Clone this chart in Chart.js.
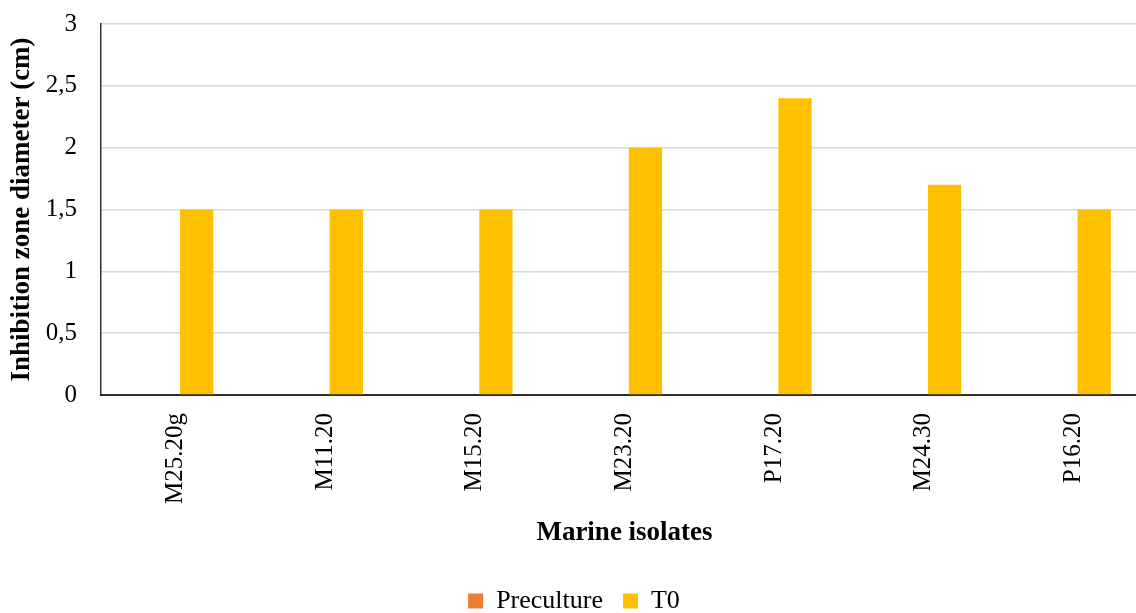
<!DOCTYPE html>
<html>
<head>
<meta charset="utf-8">
<script src="https://cdn.jsdelivr.net/npm/chart.js@4/dist/chart.umd.min.js"></script>
<style>
  html, body { margin: 0; padding: 0; background: #fff; overflow: hidden; }
  #wrap { position: absolute; left: 0; top: 0; width: 1148px; height: 613px; }
</style>
</head>
<body>
<div id="wrap"><canvas id="c"></canvas></div>
<script>
// Inhibition zone diameters for marine isolates
const isolates = ['M25.20g', 'M11.20', 'M15.20', 'M23.20', 'P17.20', 'M24.30', 'P16.20'];
const precultureValues = [0, 0, 0, 0, 0, 0, 0];
const t0Values = [1.5, 1.5, 1.5, 2, 2.4, 1.7, 1.5];
const yTicks = [0, 0.5, 1, 1.5, 2, 2.5, 3];

const serif = "'Liberation Serif', 'Times New Roman', serif";
Chart.defaults.font.family = serif;
Chart.defaults.color = '#000';

new Chart(document.getElementById('c'), {
  type: 'bar',
  data: {
    labels: isolates,
    datasets: [
      { label: 'Preculture', data: precultureValues, backgroundColor: '#ED7D31', borderWidth: 0 },
      { label: 'T0', data: t0Values, backgroundColor: '#FFC000', borderWidth: 0 }
    ]
  },
  options: {
    responsive: true,
    maintainAspectRatio: false,
    animation: false,
    categoryPercentage: 0.56,
    barPercentage: 0.795,
    layout: { padding: { top: 24, left: 0, right: 0, bottom: -11 } },
    plugins: {
      tooltip: { enabled: false },
      legend: {
        position: 'bottom',
        labels: {
          font: { size: 26, family: serif },
          color: '#000',
          boxWidth: 15,
          boxHeight: 15,
          padding: 20
        }
      }
    },
    scales: {
      x: {
        grid: { display: false, drawTicks: false },
        border: { display: true, color: '#2e2e2e', width: 2 },
        ticks: {
          font: { size: 25, family: serif },
          color: '#000',
          maxRotation: 90,
          minRotation: 90,
          padding: 18
        },
        title: {
          display: true,
          text: 'Marine isolates',
          font: { size: 27, weight: 'bold', family: serif },
          color: '#000',
          padding: { top: 10, bottom: 19 }
        },
        afterFit: (s) => { s.height = 173; }
      },
      y: {
        min: 0,
        max: 3,
        afterBuildTicks: (s) => { s.ticks = yTicks.map(v => ({ value: v })); },
        grid: { color: '#d9d9d9', lineWidth: 1.5, drawTicks: true, tickLength: 24, tickColor: 'rgba(0,0,0,0)' },
        border: { display: true, color: '#2e2e2e', width: 1.5 },
        ticks: {
          font: { size: 25, family: serif },
          color: '#000',
          padding: 0,
          callback: (v) => String(v).replace('.', ',')
        },
        title: {
          display: true,
          text: 'Inhibition zone diameter (cm)',
          font: { size: 27, weight: 'bold', family: serif },
          color: '#000',
          padding: { top: 6, bottom: 0 }
        },
        afterFit: (s) => { s.width = 101; }
      }
    }
  }
});
</script>
</body>
</html>
